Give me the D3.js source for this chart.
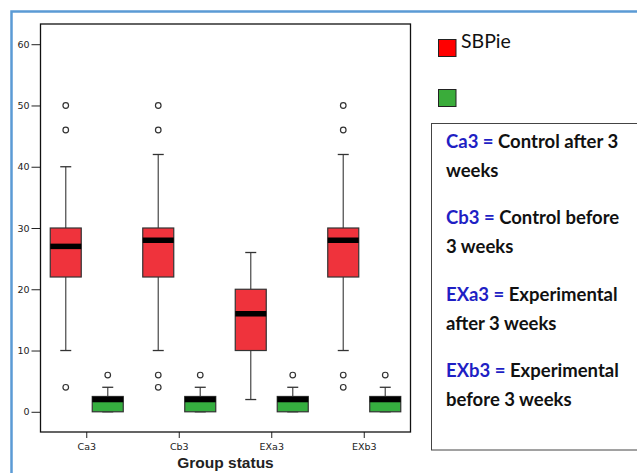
<!DOCTYPE html>
<html><head><meta charset="utf-8">
<script src="https://cdn.jsdelivr.net/npm/d3@7"></script>
<style>body{margin:0;background:#fff}svg{display:block}</style>
</head><body>
<script>
// ---- data ----
const categories = ["Ca3", "Cb3", "EXa3", "EXb3"];
const seriesNames = ["SBPie", ""];
const yTicks = [0, 10, 20, 30, 40, 50, 60];

const sbpieQ1 = [22, 22, 10, 22];
const sbpieMedian = [27, 28, 16, 28];
const sbpieQ3 = [30, 30, 20, 30];
const sbpieLow = [10, 10, 2, 10];
const sbpieHigh = [40, 42, 26, 42];
const sbpieOutliers = [[4, 46, 50], [4, 6, 46, 50], [], [4, 6, 46, 50]];

const s2Q1 = [0, 0, 0, 0];
const s2Median = [2, 2, 2, 2];
const s2Q3 = [2.5, 2.5, 2.5, 2.5];
const s2Low = [0, 0, 0, 0];
const s2High = [4, 4, 4, 4];
const s2Outliers = [[6], [6], [6], [6]];

const noteKeys = ["Ca3 =", "Cb3 =", "EXa3 =", "EXb3 ="];
const noteLines = [
  ["Control after 3", "weeks"],
  ["Control before", "3 weeks"],
  ["Experimental", "after 3 weeks"],
  ["Experimental", "before 3 weeks"]
];

// ---- build ----
const W = 637, H = 473;
const svg = d3.select("body").append("svg").attr("width", W).attr("height", H);
const colors = ["#ef333c", "#35ae3f"];
const legendColors = ["#ff0000", "#3aac3a"];

const stats = [
  {q1: sbpieQ1, med: sbpieMedian, q3: sbpieQ3, lo: sbpieLow, hi: sbpieHigh, out: sbpieOutliers},
  {q1: s2Q1, med: s2Median, q3: s2Q3, lo: s2Low, hi: s2High, out: s2Outliers}
];

// outer blue frame
svg.append("path").attr("d", "M11.5,473 L11.5,11.5 L637,11.5")
  .attr("fill", "none").attr("stroke", "#5b9bd5").attr("stroke-width", 2.5);

const plot = {left: 40.5, top: 24, right: 410.5, bottom: 432};
const y = d3.scaleLinear().domain([-3.3, 63.3]).range([plot.bottom, plot.top]);
const x = d3.scaleBand().domain(categories).range([plot.left, plot.right]).padding(0);
const bw = x.bandwidth();
const xi = d3.scaleBand().domain(seriesNames.map((d, i) => i)).range([bw / 2 - 36.5, bw / 2 + 36.5])
  .paddingInner(11 / 42).paddingOuter(0);
const boxW = xi.bandwidth();

// y axis
const yAxis = svg.append("g").attr("transform", `translate(${plot.left},0)`)
  .call(d3.axisLeft(y).tickValues(yTicks).tickSize(9).tickPadding(2));
yAxis.select(".domain").remove();
yAxis.selectAll("line").attr("stroke", "#222");
yAxis.selectAll("text").attr("font-family", "DejaVu Sans, sans-serif").attr("font-size", 9.5).attr("fill", "#222");

// x axis
const xAxis = svg.append("g").attr("transform", `translate(0,${plot.bottom})`)
  .call(d3.axisBottom(x).tickSize(6).tickPadding(5));
xAxis.select(".domain").remove();
xAxis.selectAll("line").attr("stroke", "#222");
xAxis.selectAll("text").attr("font-family", "DejaVu Sans, sans-serif").attr("font-size", 9.5).attr("fill", "#222");

// frame
svg.append("rect").attr("x", plot.left).attr("y", plot.top)
  .attr("width", plot.right - plot.left).attr("height", plot.bottom - plot.top)
  .attr("fill", "none").attr("stroke", "#111").attr("stroke-width", 1.3);

// boxes
stats.forEach((s, si) => {
  const g = svg.append("g");
  categories.forEach((c, ci) => {
    const cx = x(c) + xi(si) + boxW / 2;
    const left = x(c) + xi(si);
    g.append("line").attr("x1", cx).attr("x2", cx).attr("y1", y(s.hi[ci])).attr("y2", y(s.q3[ci]))
      .attr("stroke", "#555").attr("stroke-width", 1.3);
    g.append("line").attr("x1", cx).attr("x2", cx).attr("y1", y(s.q1[ci])).attr("y2", y(s.lo[ci]))
      .attr("stroke", "#555").attr("stroke-width", 1.3);
    [s.hi[ci], s.lo[ci]].forEach(v => {
      g.append("line").attr("x1", cx - 5.5).attr("x2", cx + 5.5).attr("y1", y(v)).attr("y2", y(v))
        .attr("stroke", "#333").attr("stroke-width", 1.3);
    });
    g.append("rect").attr("x", left).attr("width", boxW)
      .attr("y", y(s.q3[ci])).attr("height", y(s.q1[ci]) - y(s.q3[ci]))
      .attr("fill", colors[si]).attr("stroke", "#333").attr("stroke-width", 1.2);
    g.append("line").attr("x1", left).attr("x2", left + boxW)
      .attr("y1", y(s.med[ci])).attr("y2", y(s.med[ci]))
      .attr("stroke", "#000").attr("stroke-width", 5.5);
    s.out[ci].forEach(v => {
      g.append("circle").attr("cx", cx).attr("cy", y(v)).attr("r", 2.8)
        .attr("fill", "#fff").attr("stroke", "#333").attr("stroke-width", 1.2);
    });
  });
});

// axis title
svg.append("text").attr("x", (plot.left + plot.right) / 2).attr("y", 468)
  .attr("text-anchor", "middle").attr("font-family", "Liberation Sans, Arial, sans-serif")
  .attr("font-weight", "bold").attr("font-size", 15.5).attr("fill", "#222").text("Group status");

// legend
const legY = [39, 89];
seriesNames.forEach((n, i) => {
  svg.append("rect").attr("x", 438.5).attr("y", legY[i] + 0.5).attr("width", 17.5).attr("height", 17)
    .attr("fill", legendColors[i]).attr("stroke", "#222").attr("stroke-width", 1);
  svg.append("text").attr("x", 461).attr("y", 48).attr("font-family", "Lato, Carlito, sans-serif")
    .attr("font-size", 19.5).attr("fill", "#111").text(n);
});

// notes box
svg.append("rect").attr("x", 431.5).attr("y", 123.5).attr("width", 220).attr("height", 326.5)
  .attr("fill", "#fff").attr("stroke", "#444").attr("stroke-width", 1);
const noteY = [148, 224, 301, 377];
noteKeys.forEach((k, i) => {
  const t = svg.append("text").attr("x", 446).attr("y", noteY[i])
    .attr("font-family", "Lato, Carlito, sans-serif").attr("font-weight", "bold").attr("font-size", 18.5);
  t.append("tspan").attr("fill", "#1f1fc4").text(k + " ");
  t.append("tspan").attr("fill", "#111").text(noteLines[i][0]);
  svg.append("text").attr("x", 446).attr("y", noteY[i] + 29)
    .attr("font-family", "Lato, Carlito, sans-serif").attr("font-weight", "bold").attr("font-size", 18.5)
    .attr("fill", "#111").text(noteLines[i][1]);
});
</script>
</body></html>
